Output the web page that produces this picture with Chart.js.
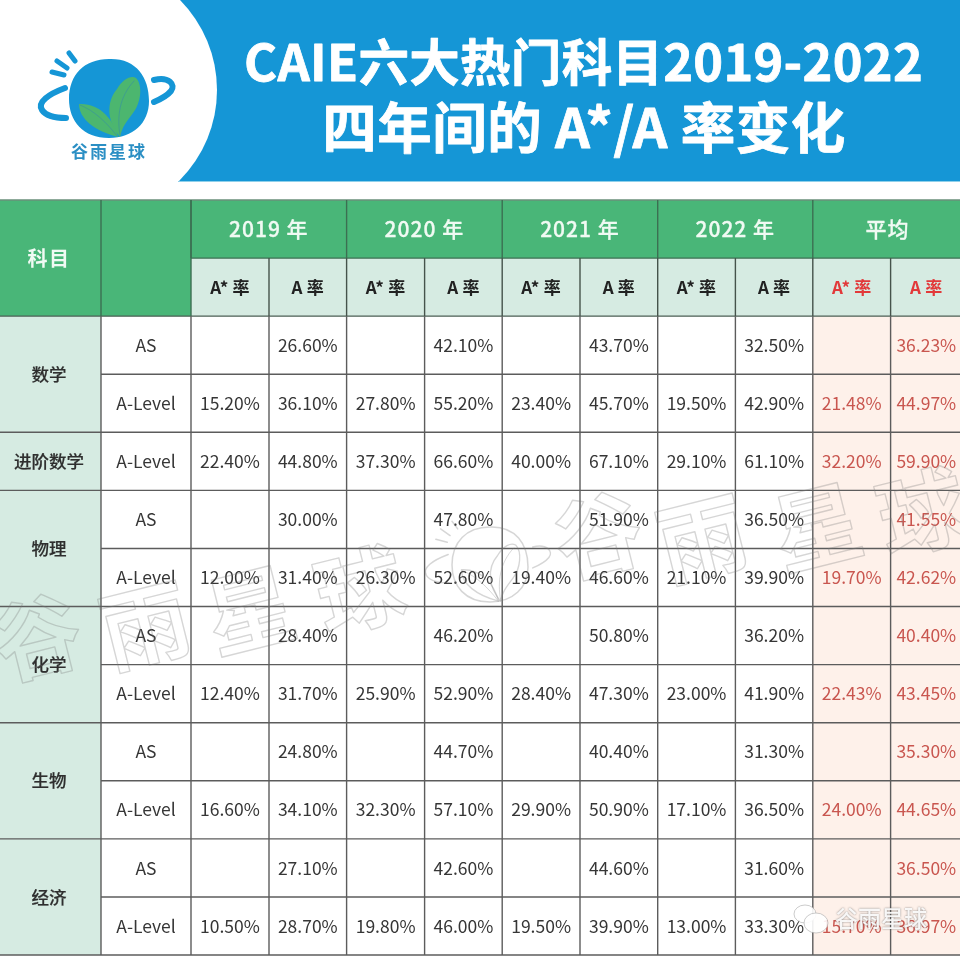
<!DOCTYPE html>
<html lang="zh"><head><meta charset="utf-8">
<style>html,body{margin:0;padding:0;background:#fff}canvas{display:block;filter:blur(0.45px)}</style>
<script src="https://cdn.jsdelivr.net/npm/chart.js@4"></script></head>
<body><canvas id="c" width="960" height="963"></canvas>
<script>
const titleLines = ['CAIE六大热门科目2019-2022','四年间的 A*/A 率变化'];
const brandName = '谷雨星球';
const subjectHeader = '科目';
const yearLabels = ['2019 年','2020 年','2021 年','2022 年','平均'];
const rateLabels = ['A* 率','A 率'];
const subjects = [['数学',0,2],['进阶数学',2,1],['物理',3,2],['化学',5,2],['生物',7,2],['经济',9,2]];
const levels = ['AS','A-Level','A-Level','AS','A-Level','AS','A-Level','AS','A-Level','AS','A-Level'];
const aStar2019 = [null,15.2,22.4,null,12.0,null,12.4,null,16.6,null,10.5];
const a2019 = [26.6,36.1,44.8,30.0,31.4,28.4,31.7,24.8,34.1,27.1,28.7];
const aStar2020 = [null,27.8,37.3,null,26.3,null,25.9,null,32.3,null,19.8];
const a2020 = [42.1,55.2,66.6,47.8,52.6,46.2,52.9,44.7,57.1,42.6,46.0];
const aStar2021 = [null,23.4,40.0,null,19.4,null,28.4,null,29.9,null,19.5];
const a2021 = [43.7,45.7,67.1,51.9,46.6,50.8,47.3,40.4,50.9,44.6,39.9];
const aStar2022 = [null,19.5,29.1,null,21.1,null,23.0,null,17.1,null,13.0];
const a2022 = [32.5,42.9,61.1,36.5,39.9,36.2,41.9,31.3,36.5,31.6,33.3];
const aStarAvg = [null,21.48,32.20,null,19.70,null,22.43,null,24.00,null,15.70];
const aAvg = [36.23,44.97,59.90,41.55,42.62,40.40,43.45,35.30,44.65,36.50,36.97];
const valueColumns = [aStar2019,a2019,aStar2020,a2020,aStar2021,a2021,aStar2022,a2022,aStarAvg,aAvg];

/* layout: x axis runs in canvas pixels, y axis in table rows (row 0 = first header row) */
const colEdges = [-1,101,191,269,346.6,424.6,502.2,580,657.7,735.4,812.8,890.6,962];
const rowPx = 58.08, tableTop = 200, headerRows = 2, bodyRows = 11, H = 963;
const mid = (a,b)=>(a+b)/2;
const CJK = '"Noto Sans CJK SC","Noto Sans",sans-serif';
const C = {blue:'#1596d6',green:'#49b678',lgreen:'#d6ebe2',pink:'#fef1ea',text:'#363636',red:'#c9564f',hred:'#e2393a'};

const datasets = valueColumns.map((col,i)=>({
  label:(i<8?yearLabels[i>>1]:yearLabels[4])+' '+rateLabels[i%2],
  data: col.map((v,r)=>v===null?null:{x:mid(colEdges[i+2],colEdges[i+3]),y:r+headerRows+0.5,v}),
  pointRadius:0,pointHoverRadius:0,showLine:false
}));

function txt(ctx,s,x,y,font,color,ls,thick){
  ctx.font=font;ctx.fillStyle=color;ctx.textAlign='center';ctx.textBaseline='middle';
  ctx.letterSpacing=(ls||0)+'px';
  if(thick){ctx.strokeStyle=color;ctx.lineWidth=thick;ctx.lineJoin='round';ctx.strokeText(s,x,y);}
  ctx.fillText(s,x,y);ctx.letterSpacing='0px';
}
function leaf(ctx,x,y,pts,fill,stroke,w){
  ctx.beginPath();ctx.moveTo(x,y);
  pts.forEach(p=>ctx.bezierCurveTo(p[0],p[1],p[2],p[3],p[4],p[5]));
  ctx.closePath();
  if(fill){ctx.fillStyle=fill;ctx.fill();}
  if(stroke){ctx.strokeStyle=stroke;ctx.lineWidth=w;ctx.stroke();}
}
function logo(ctx,cx,cy,s,outline){
  ctx.save();ctx.translate(cx,cy);ctx.scale(s,s);
  const col=outline||C.blue;ctx.lineCap='round';
  ctx.beginPath();ctx.moveTo(0,-40);ctx.bezierCurveTo(27,-41,40,-22,40,2);ctx.bezierCurveTo(40,24,24,39,0,39);ctx.bezierCurveTo(-26,39,-40,22,-40,0);ctx.bezierCurveTo(-40,-24,-25,-40,0,-40);ctx.closePath();
  if(outline){ctx.strokeStyle=col;ctx.lineWidth=1.6;ctx.stroke();}else{ctx.fillStyle=col;ctx.fill();}
  const g=outline?null:'#4cb66f',st=outline||null;
  leaf(ctx,11,38,[[-1,24,-4,4,8,-10],[14,-20,22,-24,27,-21],[34,-14,32,4,24,14],[18,22,13,28,11,38]],g,st,1.4);
  leaf(ctx,9,38,[[5,22,-8,4,-30,5],[-30,20,-14,32,9,38]],g,st,1.4);
  ctx.strokeStyle=outline||'#3f9f8f';ctx.lineWidth=1;
  ctx.beginPath();ctx.moveTo(11,36);ctx.bezierCurveTo(8,18,10,-2,25,-18);ctx.stroke();
  ctx.beginPath();ctx.moveTo(8,37);ctx.bezierCurveTo(-2,24,-14,12,-29,6);ctx.stroke();
  ctx.strokeStyle=col;ctx.lineWidth=outline?1.6:6;
  ctx.beginPath();ctx.moveTo(-44,-11);ctx.bezierCurveTo(-60,-5,-72,3,-67,11);ctx.bezierCurveTo(-63,17,-52,19,-43,19);ctx.stroke();
  ctx.beginPath();ctx.moveTo(45,-19);ctx.bezierCurveTo(60,-23,67,-14,62,-8);ctx.bezierCurveTo(58,-3,52,0,45,3);ctx.stroke();
  ctx.lineWidth=outline?1.6:5;
  [[-57,-27,-45,-24],[-52,-38,-42,-31],[-40,-46,-34,-38]].forEach(a=>{ctx.beginPath();ctx.moveTo(a[0],a[1]);ctx.lineTo(a[2],a[3]);ctx.stroke();});
  ctx.restore();
}
function markChar(ctx,ch,x,y,size){
  ctx.save();ctx.translate(x,y);ctx.rotate(-14*Math.PI/180);
  ctx.font='bold '+size+'px '+CJK;ctx.textAlign='center';ctx.textBaseline='middle';
  ctx.strokeStyle='rgba(120,120,120,.3)';ctx.lineWidth=1.4;ctx.lineJoin='round';ctx.strokeText(ch,0,0);ctx.restore();
}

const tablePlugin = {
  id:'table',
  beforeDatasetsDraw(chart){
    const ctx=chart.ctx,xs=chart.scales.x,ys=chart.scales.y;
    const X=v=>xs.getPixelForValue(v),Y=v=>ys.getPixelForValue(v);
    const rect=(x0,x1,r0,r1,c)=>{ctx.fillStyle=c;ctx.fillRect(X(x0),Y(r0),X(x1)-X(x0),Y(r1)-Y(r0));};
    /* banner */
    ctx.fillStyle=C.blue;ctx.fillRect(0,0,960,181);
    ctx.fillStyle='#fff';ctx.beginPath();ctx.arc(89,90,128,0,Math.PI*2);ctx.fill();
    ctx.fillStyle='#fff';ctx.fillRect(0,0,100,181);
    ctx.fillStyle='#8fd0ea';ctx.fillRect(178,181,782,1);
    txt(ctx,titleLines[0],583.5,62,'bold 50.5px '+CJK,'#fff',0.3,0.8);
    txt(ctx,titleLines[1],584,127,'bold 54.5px '+CJK,'#fff',0.5,0.8);
    logo(ctx,109,99,1);
    txt(ctx,brandName,109,152,'bold 17px '+CJK,'#2b8fc4',2);
    /* fills */
    rect(colEdges[0],968,0,1,C.green);
    rect(colEdges[0],colEdges[2],0,2,C.green);
    rect(colEdges[2],968,1,2,C.lgreen);
    rect(colEdges[0],colEdges[1],2,13,C.lgreen);
    rect(colEdges[10],968,2,13,C.pink);
    /* grid */
    const seg=(x0,r0,x1,r1,c,w)=>{ctx.strokeStyle=c;ctx.lineWidth=w||1.4;ctx.beginPath();ctx.moveTo(X(x0),Y(r0));ctx.lineTo(X(x1),Y(r1));ctx.stroke();};
    const dark='#3c6f52',line='#5c5c5c';
    seg(colEdges[0],0,968,0,'#6a8f7a');
    seg(colEdges[2],1,968,1,dark);
    seg(colEdges[0],2,968,2,'#4d5f55');
    for(let r=3;r<=13;r++){
      const boundary=subjects.some(s=>s[1]+2===r)||r===13;
      seg(boundary?colEdges[0]:colEdges[1],r,968,r,line);
    }
    [1,2].forEach(i=>seg(colEdges[i],0,colEdges[i],2,dark));
    for(let i=2;i<=10;i+=2)seg(colEdges[i],0,colEdges[i],1,dark);
    for(let i=3;i<=11;i++)seg(colEdges[i],1,colEdges[i],2,'#45534b');
    for(let i=1;i<=11;i++)seg(colEdges[i],2,colEdges[i],13,line);
    /* header text */
    txt(ctx,subjectHeader,mid(colEdges[0],colEdges[1])-1,Y(1),'bold 20px '+CJK,'#f0faf3',1.5);
    yearLabels.forEach((t,i)=>txt(ctx,t,mid(colEdges[2+i*2],colEdges[4+i*2]),Y(0.5),'500 21px '+CJK,'#f0faf3',1,0.3));
    for(let i=0;i<10;i++){
      txt(ctx,rateLabels[i%2],mid(colEdges[i+2],colEdges[i+3]),Y(1.5),'bold 17px '+CJK,i<8?'#222':C.hred,0.2);
    }
    subjects.forEach(s=>txt(ctx,s[0],mid(colEdges[0],colEdges[1])-1,Y(2+s[1]+s[2]/2),'500 17.5px '+CJK,'#2e2e2e',0,0.2));
    levels.forEach((l,r)=>txt(ctx,l,mid(colEdges[1],colEdges[2]),Y(r+2.5),'17.5px '+CJK,C.text,0));
  },
  afterDatasetsDraw(chart){
    const ctx=chart.ctx,xs=chart.scales.x,ys=chart.scales.y;
    chart.data.datasets.forEach((d,i)=>d.data.forEach(p=>{
      if(!p)return;
      txt(ctx,p.v.toFixed(2)+'%',xs.getPixelForValue(p.x),ys.getPixelForValue(p.y),'17.5px '+CJK,i<8?C.text:C.red,0);
    }));
    /* watermark */
    [[37,637],[145,625],[250,610],[360,590]].forEach((p,i)=>markChar(ctx,brandName[i],p[0],p[1],88));
    logo(ctx,490,565,0.95,'rgba(120,120,120,.3)');
    [[598,535],[702,538],[817,527],[922,512]].forEach((p,i)=>markChar(ctx,brandName[i],p[0],p[1],88));
    /* wechat mark */
    ctx.save();
    ctx.fillStyle='rgba(255,255,255,.9)';ctx.strokeStyle='rgba(170,170,170,.6)';ctx.lineWidth=1;
    ctx.beginPath();ctx.ellipse(805,914,11,9,0,0,Math.PI*2);ctx.fill();ctx.stroke();
    ctx.beginPath();ctx.ellipse(816,923,12,10,0,0,Math.PI*2);ctx.fill();ctx.stroke();
    ctx.shadowColor='rgba(80,80,80,.8)';ctx.shadowBlur=2;
    txt(ctx,brandName,881,918,'500 23px '+CJK,'rgba(255,255,255,.92)',0);
    ctx.restore();
  }
};

new Chart(document.getElementById('c'),{
  type:'scatter',
  data:{datasets},
  options:{
    responsive:false,animation:false,devicePixelRatio:1,
    layout:{padding:0},
    plugins:{legend:{display:false},title:{display:false},tooltip:{enabled:false}},
    events:[],
    scales:{
      x:{type:'linear',min:0,max:960,display:false},
      y:{type:'linear',reverse:true,min:-tableTop/rowPx,max:(H-tableTop)/rowPx,display:false}
    }
  },
  plugins:[tablePlugin]
});
</script></body></html>
